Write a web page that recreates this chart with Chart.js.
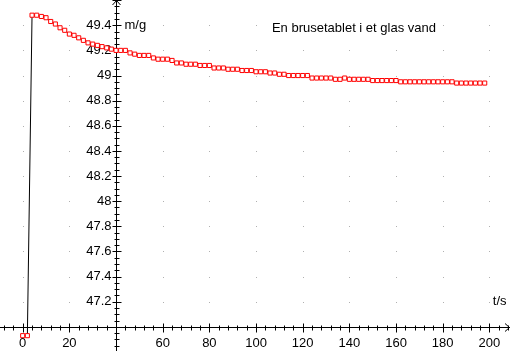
<!DOCTYPE html>
<html>
<head>
<meta charset="utf-8">
<script src="https://cdn.jsdelivr.net/npm/chart.js@4/dist/chart.umd.min.js"></script>
<style>
  html, body { margin: 0; padding: 0; background: #fff; }
  canvas { display: block; }
</style>
</head>
<body>
<canvas id="massChart" width="511" height="351"></canvas>
<script>
// ===== Data =====

const times = [0, 2, 4, 6, 8, 10, 12, 14, 16, 18, 20, 22, 24, 26, 28, 30, 32, 34, 36, 38,
  40, 42, 44, 46, 48, 50, 52, 54, 56, 58, 60, 62, 64, 66, 68, 70, 72, 74, 76, 78,
  80, 82, 84, 86, 88, 90, 92, 94, 96, 98, 100, 102, 104, 106, 108, 110, 112, 114, 116, 118,
  120, 122, 124, 126, 128, 130, 132, 134, 136, 138, 140, 142, 144, 146, 148, 150, 152, 154, 156, 158,
  160, 162, 164, 166, 168, 170, 172, 174, 176, 178, 180, 182, 184, 186, 188, 190, 192, 194, 196, 198];

const masses = [46.93, 46.93, 49.48, 49.48, 49.47, 49.46, 49.43, 49.41, 49.38, 49.36,
  49.33, 49.32, 49.30, 49.28, 49.26, 49.25, 49.24, 49.23, 49.22, 49.21,
  49.20, 49.20, 49.20, 49.18, 49.17, 49.16, 49.16, 49.16, 49.14, 49.13,
  49.13, 49.13, 49.12, 49.10, 49.10, 49.09, 49.09, 49.09, 49.08, 49.08,
  49.08, 49.06, 49.06, 49.06, 49.05, 49.05, 49.05, 49.04, 49.04, 49.04,
  49.03, 49.03, 49.03, 49.02, 49.02, 49.01, 49.01, 49.00, 49.00, 49.00,
  49.00, 49.00, 48.98, 48.98, 48.98, 48.98, 48.98, 48.97, 48.97, 48.98,
  48.97, 48.97, 48.97, 48.97, 48.97, 48.96, 48.96, 48.96, 48.96, 48.96,
  48.96, 48.95, 48.95, 48.95, 48.95, 48.95, 48.95, 48.95, 48.95, 48.95,
  48.95, 48.95, 48.95, 48.94, 48.94, 48.94, 48.94, 48.94, 48.94, 48.94];

const xTickValues = [0, 20, 60, 80, 100, 120, 140, 160, 180, 200];
const xTickLabels = ["0", "20", "60", "80", "100", "120", "140", "160", "180", "200"];
const yTickValues = [49.4, 49.2, 49.0, 48.8, 48.6, 48.4, 48.2, 48.0, 47.8, 47.6, 47.4, 47.2];
const yTickLabels = ["49.4", "49.2", "49", "48.8", "48.6", "48.4", "48.2", "48", "47.8", "47.6", "47.4", "47.2"];

const gridX = [0, 20, 60, 80, 100, 120, 140, 160, 180, 200];
const gridY = [49.4, 49.2, 49.0, 48.8, 48.6, 48.4, 48.2, 48.0, 47.8, 47.6, 47.4, 47.2];

const crossX = 40;   // vertical axis sits at t = 40
const crossY = 47.0; // horizontal axis sits at m = 47

const title = "En brusetablet i et glas vand";
const xName = "t/s";
const yName = "m/g";

const font = "13px 'Liberation Sans', Arial, sans-serif";


// ===== Axes through the middle =====

const crossAxes = {

  id: "crossAxes",

  beforeDatasetsDraw(chart) {

    const ctx = chart.ctx;
    const xs = chart.scales.x;
    const ys = chart.scales.y;
    const W = chart.width;
    const H = chart.height;

    const ax = Math.round(xs.getPixelForValue(crossX)) + 0.5;
    const ay = Math.round(ys.getPixelForValue(crossY)) + 0.5;

    ctx.save();

    // grid dots
    ctx.fillStyle = "#b0b0b0";
    gridX.forEach(gx => {
      gridY.forEach(gy => {
        ctx.fillRect(Math.round(xs.getPixelForValue(gx)), Math.round(ys.getPixelForValue(gy)), 1, 1);
      });
    });

    ctx.strokeStyle = "#000";
    ctx.lineWidth = 1;
    ctx.beginPath();

    // horizontal axis + arrow
    ctx.moveTo(0, ay);
    ctx.lineTo(W - 1, ay);
    ctx.moveTo(W - 6, ay - 4);
    ctx.lineTo(W - 1.5, ay);
    ctx.lineTo(W - 6, ay + 4);

    // vertical axis + arrow
    ctx.moveTo(ax, H);
    ctx.lineTo(ax, 0.5);
    ctx.moveTo(ax - 4, 5);
    ctx.lineTo(ax, 0.5);
    ctx.lineTo(ax + 4, 5);

    // x ticks every 4 s, long every 20 s
    for (let t = -8; t <= 208; t += 4) {
      const px = Math.round(xs.getPixelForValue(t)) + 0.5;
      const len = (t % 20 === 0) ? 4 : 2;
      ctx.moveTo(px, ay - len);
      ctx.lineTo(px, ay + len + 1);
    }

    // y ticks every 0.05 g, long every 0.2 g
    for (let i = 0; i <= 56; i++) {
      const v = 46.85 + i * 0.05;
      const py = Math.round(ys.getPixelForValue(v)) + 0.5;
      const major = Math.abs(v * 5 - Math.round(v * 5)) < 1e-6;
      const len = major ? 4 : 2;
      ctx.moveTo(ax - len, py);
      ctx.lineTo(ax + len + 1, py);
    }

    ctx.stroke();

    // tick labels
    ctx.fillStyle = "#000";
    ctx.font = font;

    ctx.textAlign = "center";
    ctx.textBaseline = "middle";
    xTickValues.forEach((v, i) => {
      ctx.fillText(xTickLabels[i], xs.getPixelForValue(v), ay + 16);
    });

    ctx.textAlign = "right";
    yTickValues.forEach((v, i) => {
      ctx.fillText(yTickLabels[i], ax - 5, ys.getPixelForValue(v));
    });

    // axis names and title
    ctx.textAlign = "left";
    ctx.fillText(yName, ax + 8, ys.getPixelForValue(49.4));
    ctx.fillText(xName, xs.getPixelForValue(201.5), ys.getPixelForValue(47.2));
    ctx.fillText(title, xs.getPixelForValue(106.8), ys.getPixelForValue(49.375));

    ctx.restore();

  }

};


// ===== Chart =====

const chart = document.getElementById("massChart");

new Chart(chart, {

  type: "scatter",

  data: {
    datasets: [{
      data: times.map((t, i) => ({ x: t, y: masses[i] })),
      showLine: true,
      borderColor: "#000",
      borderWidth: 1,
      tension: 0,
      pointStyle: "rect",
      pointRadius: 2.9,
      pointBorderColor: "#ff0000",
      pointBackgroundColor: "#ffffff",
      pointBorderWidth: 1
    }]
  },

  options: {
    responsive: false,
    animation: false,
    layout: { padding: 0, autoPadding: false },
    plugins: {
      legend: { display: false },
      tooltip: { enabled: false }
    },
    scales: {
      x: { type: "linear", min: -9.73, max: 209.27, display: false },
      y: { type: "linear", min: 46.808, max: 49.601, display: false }
    }
  },

  plugins: [crossAxes]

});
</script>
</body>
</html>
